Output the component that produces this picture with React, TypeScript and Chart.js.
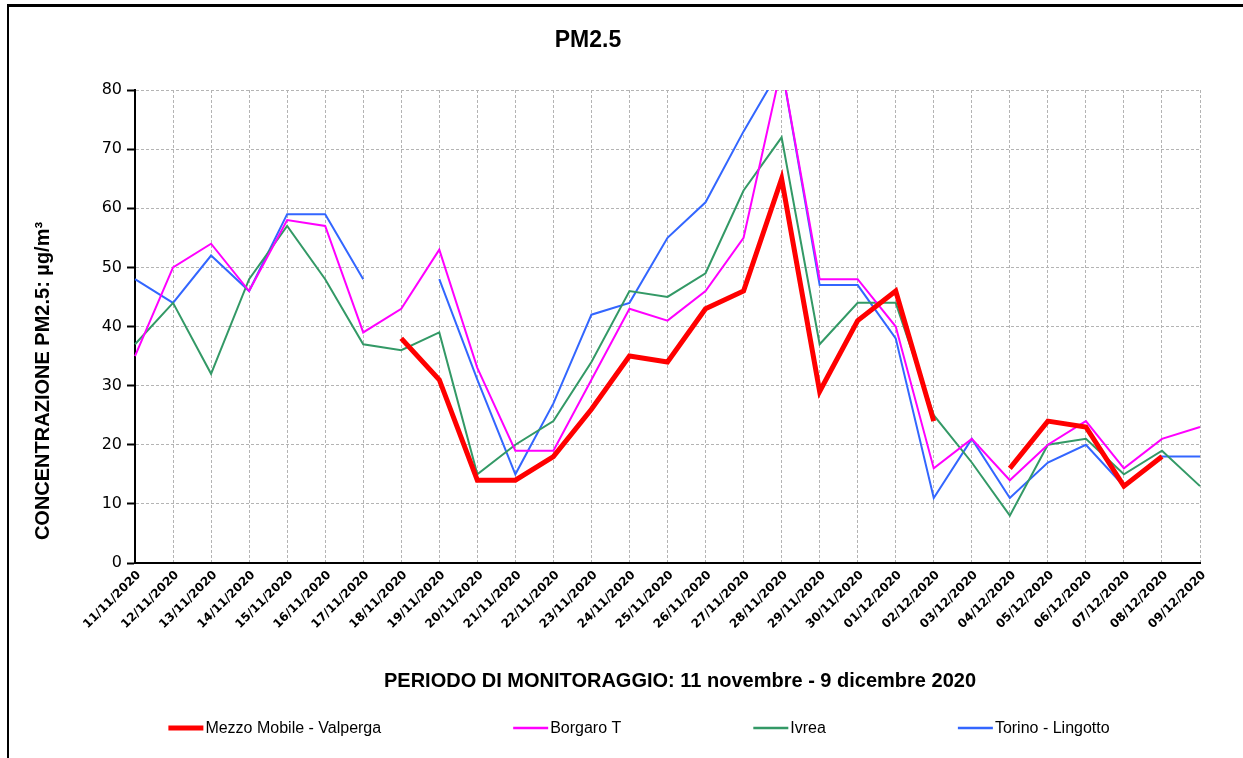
import React, { useEffect, useRef } from "react";
import { Chart, registerables } from "chart.js";

Chart.register(...registerables);

// ---- data ----
const dateLabels = [
  "11/11/2020", "12/11/2020", "13/11/2020", "14/11/2020", "15/11/2020", "16/11/2020",
  "17/11/2020", "18/11/2020", "19/11/2020", "20/11/2020", "21/11/2020", "22/11/2020",
  "23/11/2020", "24/11/2020", "25/11/2020", "26/11/2020", "27/11/2020", "28/11/2020",
  "29/11/2020", "30/11/2020", "01/12/2020", "02/12/2020", "03/12/2020", "04/12/2020",
  "05/12/2020", "06/12/2020", "07/12/2020", "08/12/2020", "09/12/2020",
];

const valperga = [
  null, null, null, null, null, null, null, 38, 31, 14, 14, 18, 26, 35, 34,
  43, 46, 65, 29, 41, 46, 24, null, 16, 24, 23, 13, 18, null,
];
const borgaro = [
  35, 50, 54, 46, 58, 57, 39, 43, 53, 33, 19, 19, 31, 43, 41,
  46, 55, 84, 48, 48, 40, 16, 21, 14, 20, 24, 16, 21, 23,
];
const ivrea = [
  37, 44, 32, 48, 57, 48, 37, 36, 39, 15, 20, 24, 34, 46, 45,
  49, 63, 72, 37, 44, 44, 25, 17, 8, 20, 21, 15, 19, 13,
];
const lingotto = [
  48, 44, 52, 46, 59, 59, 48, null, 48, 31, 15, 27, 42, 44, 55,
  61, 73, 84, 47, 47, 38, 11, 21, 11, 17, 20, 13, 18, 18,
];

const seriesNames = ["Mezzo Mobile - Valperga", "Borgaro T", "Ivrea", "Torino - Lingotto"];
const seriesValues = [valperga, borgaro, ivrea, lingotto];
const seriesColors = ["#ff0000", "#ff00ff", "#339966", "#3366ff"];
const seriesWidths = [5, 2, 2, 2];

const yMin = 0;
const yMax = 80;
const yStep = 10;

const chartTitle = "PM2.5";
const yTitle = "CONCENTRAZIONE PM2.5: µg/m³";
const xTitle = "PERIODO DI MONITORAGGIO: 11 novembre - 9 dicembre 2020";

const W = 1243;
const H = 758;
const SANS = "'Liberation Sans', Arial, sans-serif";

const decorations = {
  id: "decorations",
  beforeDraw(chart: any) {
    const ctx = chart.ctx;
    ctx.save();
    ctx.fillStyle = "#ffffff";
    ctx.fillRect(0, 0, W, H);
    ctx.restore();
  },
  afterDraw(chart: any) {
    const ctx = chart.ctx;
    ctx.save();
    // frame
    ctx.fillStyle = "#000";
    ctx.fillRect(8, 4, W - 8, 3);
    ctx.fillRect(7, 4, 2, H - 4);

    // chart title
    ctx.fillStyle = "#000";
    ctx.textAlign = "center";
    ctx.textBaseline = "middle";
    ctx.font = `bold 23px ${SANS}`;
    ctx.fillText(chartTitle, 588, 41);

    // y axis title
    ctx.save();
    ctx.translate(43, 381);
    ctx.rotate(-Math.PI / 2);
    ctx.font = `bold 20px ${SANS}`;
    ctx.fillText(yTitle, 0, 0);
    ctx.restore();

    // x axis title
    ctx.font = `bold 20px ${SANS}`;
    ctx.fillText(xTitle, 680, 681);

    // legend
    ctx.font = `16px ${SANS}`;
    ctx.textAlign = "left";
    const sample = 35;
    const gapText = 2;
    const gapItem = 132;
    const widths = chart.data.datasets.map(
      (ds: any) => sample + gapText + ctx.measureText(ds.label).width
    );
    const total = widths.reduce((a: number, b: number) => a + b, 0) + gapItem * (widths.length - 1);
    let x = 639 - total / 2;
    const y = 728;
    chart.data.datasets.forEach((ds: any, i: number) => {
      ctx.strokeStyle = ds.borderColor;
      ctx.lineWidth = ds.borderWidth === 5 ? 5 : 2.5;
      ctx.beginPath();
      ctx.moveTo(x, y);
      ctx.lineTo(x + sample, y);
      ctx.stroke();
      ctx.fillStyle = "#000";
      ctx.fillText(ds.label, x + sample + gapText, y + 1);
      x += widths[i] + gapItem;
    });
    ctx.restore();
  },
};

export default function App() {
  const canvasRef = useRef<HTMLCanvasElement | null>(null);

  useEffect(() => {
    if (!canvasRef.current) return;
    const chart = new Chart(canvasRef.current, {
      type: "line",
      data: {
        labels: dateLabels,
        datasets: seriesNames.map((name, i) => ({
          label: name,
          data: seriesValues[i],
          borderColor: seriesColors[i],
          backgroundColor: seriesColors[i],
          borderWidth: seriesWidths[i],
          pointRadius: 0,
          tension: 0,
          spanGaps: false,
          fill: false,
        })),
      },
      options: {
        responsive: false,
        animation: false,
        layout: { padding: { top: 90, right: 43, left: 0, bottom: 0 } },
        plugins: {
          legend: { display: false },
          title: { display: false },
          tooltip: { enabled: false },
        },
        scales: {
          x: {
            offset: false,
            grid: { color: "#b4b4b4", lineWidth: 1, drawTicks: false },
            border: { display: true, color: "#000", width: 2, dash: [3, 2] },
            ticks: {
              autoSkip: false,
              maxRotation: 45,
              minRotation: 45,
              padding: 5,
              labelOffset: 4,
              color: "#000",
              font: { family: "'DejaVu Sans'", size: 12, weight: "bold" },
            },
            afterFit: (s: any) => {
              s.height = 195;
            },
          },
          y: {
            min: yMin,
            max: yMax,
            grid: { color: "#b4b4b4", lineWidth: 1, tickColor: "#000", tickLength: 8, tickWidth: 2 },
            border: { display: true, color: "#000", width: 2, dash: [3, 2] },
            ticks: {
              stepSize: yStep,
              padding: 5,
              color: "#000",
              font: { family: "'DejaVu Sans'", size: 16 },
            },
            afterFit: (s: any) => {
              s.width = 135;
            },
          },
        },
      },
      plugins: [decorations],
    });
    return () => chart.destroy();
  }, []);

  return (
    <div style={{ position: "absolute", left: 0, top: 0, width: W, height: H, background: "#fff" }}>
      <canvas ref={canvasRef} width={W} height={H} style={{ display: "block" }} />
    </div>
  );
}
